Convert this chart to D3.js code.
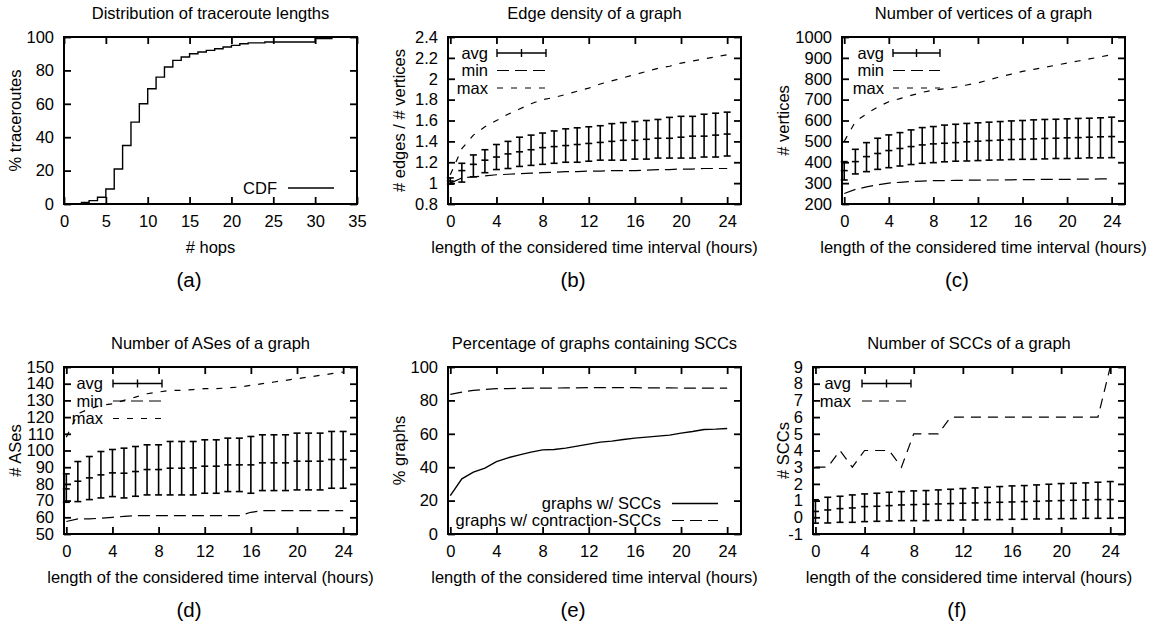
<!DOCTYPE html>
<html>
<head>
<meta charset="utf-8">
<script src="https://cdn.jsdelivr.net/npm/d3@7"></script>
<style>
body { margin: 0; background: #fff; }
text { font-family: "Liberation Sans", Arial, sans-serif; fill: #000; }
</style>
</head>
<body>
<svg id="chart"></svg>
<script>
// ---- data ----
var hops = [2,3,4,5,6,7,8,9,10,11,12,13,14,15,16,17,18,19,20,21,22,23,24,25,26,27,28,29,30,31,32];
var hopsCdf = [1,2,4,9,21,35,49,60,69,76,82,86,88,90,91,92,93,94,95,96,96.5,96.5,97,97,97,97,97,97,99,99,100];

var hours = [0,1,2,3,4,5,6,7,8,9,10,11,12,13,14,15,16,17,18,19,20,21,22,23,24];

var densAvg = [1.02,1.12,1.18,1.22,1.25,1.28,1.30,1.32,1.34,1.35,1.36,1.37,1.38,1.39,1.40,1.41,1.41,1.42,1.43,1.43,1.44,1.45,1.45,1.46,1.47];
var densLo  = [0.99,1.01,1.06,1.10,1.13,1.14,1.16,1.17,1.18,1.19,1.20,1.20,1.21,1.22,1.22,1.22,1.23,1.23,1.24,1.24,1.24,1.24,1.25,1.25,1.26];
var densHi  = [1.05,1.19,1.27,1.32,1.37,1.40,1.44,1.46,1.48,1.50,1.52,1.53,1.54,1.55,1.57,1.58,1.59,1.60,1.61,1.63,1.64,1.64,1.66,1.67,1.68];
var densMin = [1.00,1.05,1.06,1.07,1.08,1.085,1.09,1.095,1.10,1.105,1.11,1.11,1.115,1.115,1.12,1.12,1.12,1.125,1.13,1.13,1.135,1.135,1.14,1.14,1.14];
var densMax = [1.08,1.33,1.46,1.54,1.60,1.66,1.71,1.76,1.80,1.82,1.85,1.88,1.91,1.95,1.98,2.01,2.04,2.07,2.10,2.12,2.15,2.17,2.19,2.21,2.23];

var vertAvg = [360,403,427,442,456,466,475,483,488,491,494,498,501,504,506,509,510,512,514,515,517,518,520,522,523];
var vertLo  = [315,344,355,366,374,382,389,395,398,402,405,406,408,410,411,413,414,414,416,418,418,419,421,421,422];
var vertHi  = [403,462,494,515,531,542,555,566,571,578,582,586,589,592,595,598,600,603,605,606,608,610,611,613,616];
var vertMin = [250,270,282,292,300,304,308,310,312,312,313,314,314,315,315,316,317,317,318,318,318,319,319,320,320];
var vertMax = [500,595,632,665,690,705,720,735,745,752,760,770,780,795,810,822,835,845,855,865,875,885,895,905,915];

var asAvg = [77,81.6,83.6,85.4,86.6,86.4,87.4,88.6,88.6,89.4,89.4,89.6,90.6,90.6,91.4,91.4,91.4,92.6,92.6,92.6,93.6,93.6,93.6,94.6,94.6];
var asLo  = [69,69.4,70.6,71.6,72.4,71.6,72.6,73.4,73.4,73.4,73.4,73.4,74.4,74.4,75.4,75.4,74.4,76,76,76,76.4,76.4,76.4,77.4,77.4];
var asHi  = [86,93.4,96.4,99.4,100.6,101.4,102.4,103.4,103.4,105.4,105.4,105.4,106.4,106.4,107.4,107.4,108.4,109.4,109.4,109.4,110.4,110.4,110.4,111.4,111.4];
var asMin = [57.5,59,59,59.5,60,60.5,61,61,61,61,61,61,61,61,61,61,63,64,64,64,64,64,64,64,64];
var asMax = [108,122,125,127,128,130,132,134,135,136,136,136.5,137,137,137.5,138,139,140,141,142,143,144,145,146,147];

var sccShare   = [23,33,37,39.4,43.4,45.6,47.4,49,50.4,50.6,51.4,52.6,53.8,55,55.6,56.6,57.4,58,58.6,59.2,60.4,61.4,62.6,62.8,63.2];
var contrShare = [83.6,85,86,86.6,87,87.1,87.2,87.3,87.4,87.4,87.5,87.5,87.6,87.6,87.6,87.6,87.6,87.5,87.5,87.5,87.4,87.4,87.4,87.4,87.4];

var sccAvg = [0.35,0.44,0.52,0.56,0.64,0.66,0.70,0.74,0.76,0.78,0.80,0.82,0.84,0.86,0.88,0.90,0.92,0.94,0.96,0.98,1.00,1.02,1.04,1.06,1.06];
var sccLo  = [-0.35,-0.34,-0.30,-0.30,-0.26,-0.24,-0.22,-0.20,-0.20,-0.20,-0.18,-0.18,-0.16,-0.16,-0.14,-0.14,-0.12,-0.12,-0.10,-0.10,-0.08,-0.08,-0.06,-0.06,-0.06];
var sccHi  = [1.05,1.20,1.26,1.34,1.40,1.44,1.50,1.54,1.58,1.60,1.64,1.68,1.72,1.76,1.80,1.84,1.88,1.90,1.94,1.98,2.02,2.04,2.06,2.10,2.14];
var sccMax = [3,3,4,3,4,4,4,3,5,5,5,6,6,6,6,6,6,6,6,6,6,6,6,6,9];

var hopTicks  = [0,5,10,15,20,25,30,35];
var hourTicks = [0,4,8,12,16,20,24];
var pctTicks  = [0,20,40,60,80,100];
var densTicks = [0.8,1,1.2,1.4,1.6,1.8,2,2.2,2.4];
var vertTicks = [200,300,400,500,600,700,800,900,1000];
var asTicks   = [50,60,70,80,90,100,110,120,130,140,150];
var sccTicks  = [-1,0,1,2,3,4,5,6,7,8,9];

// ---- drawing ----
var W = 1151, H = 624;
var FS = 16.5;
var svg = d3.select("#chart").attr("width", W).attr("height", H);

var fmt = function(d) { return String(+d.toFixed(1)); };

function panel(p) {
    var x = d3.scaleLinear().domain(p.xDomain).range([p.left, p.right]);
    var y = d3.scaleLinear().domain(p.yDomain).range([p.bottom, p.top]);
    var g = svg.append("g");
    var axes = [
        g.append("g").attr("transform", "translate(0," + p.bottom + ")")
            .call(d3.axisBottom(x).tickValues(p.xTicks).tickSizeInner(-7).tickSizeOuter(0).tickPadding(11).tickFormat(fmt)),
        g.append("g").attr("transform", "translate(0," + p.top + ")")
            .call(d3.axisTop(x).tickValues(p.xTicks).tickSizeInner(-7).tickSizeOuter(0).tickFormat("")),
        g.append("g").attr("transform", "translate(" + p.left + ",0)")
            .call(d3.axisLeft(y).tickValues(p.yTicks).tickSizeInner(-7).tickSizeOuter(0).tickPadding(10).tickFormat(fmt)),
        g.append("g").attr("transform", "translate(" + p.right + ",0)")
            .call(d3.axisRight(y).tickValues(p.yTicks).tickSizeInner(-7).tickSizeOuter(0).tickFormat(""))
    ];
    axes.forEach(function(a) {
        a.attr("font-family", null).attr("font-size", FS);
        a.select(".domain").remove();
        a.selectAll(".tick line").attr("stroke", "#000").attr("stroke-width", 1.8);
    });
    g.append("rect")
        .attr("x", p.left).attr("y", p.top)
        .attr("width", p.right - p.left).attr("height", p.bottom - p.top)
        .attr("fill", "none").attr("stroke", "#000").attr("stroke-width", 2);

    var cx = (p.left + p.right) / 2;
    g.append("text").attr("x", cx).attr("y", p.top - 18)
        .attr("text-anchor", "middle").attr("font-size", FS).text(p.title);
    g.append("text").attr("x", cx).attr("y", p.bottom + 48.5)
        .attr("text-anchor", "middle").attr("font-size", FS).text(p.xLabel);
    g.append("text").attr("x", p.subX).attr("y", p.bottom + 82.5)
        .attr("text-anchor", "middle").attr("font-size", 20.5).text(p.sub);
    g.append("text")
        .attr("transform", "translate(" + (p.yLabelX + 6) + "," + ((p.top + p.bottom) / 2) + ") rotate(-90)")
        .attr("text-anchor", "middle").attr("font-size", FS).text(p.yLabel);
    return { g: g, x: x, y: y };
}

function drawLine(c, xs, ys, dash, curve) {
    var line = d3.line()
        .x(function(d, i) { return c.x(xs[i]); })
        .y(function(d) { return c.y(d); });
    if (curve) line.curve(curve);
    c.g.append("path").datum(ys)
        .attr("d", line)
        .attr("fill", "none")
        .attr("stroke", "#000")
        .attr("stroke-width", dash ? 1.2 : 1.4)
        .attr("stroke-dasharray", dash || null);
}

function drawErrorbars(c, xs, avg, lo, hi) {
    var cap = 3.5;
    var bars = c.g.append("g").attr("stroke", "#000").attr("stroke-width", 1.6);
    xs.forEach(function(h, i) {
        var px = c.x(h);
        bars.append("line").attr("x1", px).attr("x2", px).attr("y1", c.y(lo[i])).attr("y2", c.y(hi[i]));
        bars.append("line").attr("x1", px - cap).attr("x2", px + cap).attr("y1", c.y(lo[i])).attr("y2", c.y(lo[i]));
        bars.append("line").attr("x1", px - cap).attr("x2", px + cap).attr("y1", c.y(hi[i])).attr("y2", c.y(hi[i]));
        bars.append("line").attr("x1", px - cap).attr("x2", px + cap).attr("y1", c.y(avg[i])).attr("y2", c.y(avg[i]));
    });
}

function legendText(c, xRight, y, label) {
    c.g.append("text").attr("x", xRight).attr("y", y + 5.5)
        .attr("text-anchor", "end").attr("font-size", FS).text(label);
}

function legendLine(c, x1, x2, y, dash) {
    c.g.append("line").attr("x1", x1).attr("x2", x2).attr("y1", y).attr("y2", y)
        .attr("stroke", "#000").attr("stroke-width", dash ? 1.2 : 1.4)
        .attr("stroke-dasharray", dash || null);
}

function legendErr(c, x1, x2, y) {
    var s = c.g.append("g").attr("stroke", "#000").attr("stroke-width", 1.4);
    var m = (x1 + x2) / 2;
    s.append("line").attr("x1", x1).attr("x2", x2).attr("y1", y).attr("y2", y);
    s.append("line").attr("x1", x1).attr("x2", x1).attr("y1", y - 4).attr("y2", y + 4);
    s.append("line").attr("x1", x2).attr("x2", x2).attr("y1", y - 4).attr("y2", y + 4);
    s.append("line").attr("x1", m).attr("x2", m).attr("y1", y - 4).attr("y2", y + 4);
}

var MIN_DASH = "12,6", MAX_DASH = "6,8";
var hourLabel = "length of the considered time interval (hours)";
var hourDomain = [-0.2, 25.2];

// (a)
var a = panel({ left: 64, right: 357, top: 37, bottom: 204, xDomain: [0, 35], yDomain: [0, 100],
    xTicks: hopTicks, yTicks: pctTicks, title: "Distribution of traceroute lengths",
    xLabel: "# hops", yLabel: "% traceroutes", sub: "(a)", subX: 189, yLabelX: 15 });
drawLine(a, hops, hopsCdf, null, d3.curveStepAfter);
legendText(a, 277, 188, "CDF");
legendLine(a, 288, 334, 188, null);

// (b)
var b = panel({ left: 448, right: 741, top: 37, bottom: 204, xDomain: hourDomain, yDomain: [0.8, 2.4],
    xTicks: hourTicks, yTicks: densTicks, title: "Edge density of a graph",
    xLabel: hourLabel, yLabel: "# edges / # vertices", sub: "(b)", subX: 573, yLabelX: 399 });
drawLine(b, hours, densMin, MIN_DASH);
drawLine(b, hours, densMax, MAX_DASH);
drawErrorbars(b, hours, densAvg, densLo, densHi);
legendText(b, 488, 53, "avg"); legendErr(b, 497, 546, 53);
legendText(b, 488, 70.5, "min"); legendLine(b, 497, 546, 70.5, MIN_DASH);
legendText(b, 488, 88, "max"); legendLine(b, 497, 546, 88, MAX_DASH);

// (c)
var c = panel({ left: 842, right: 1125, top: 37, bottom: 204, xDomain: hourDomain, yDomain: [200, 1000],
    xTicks: hourTicks, yTicks: vertTicks, title: "Number of vertices of a graph",
    xLabel: hourLabel, yLabel: "# vertices", sub: "(c)", subX: 957, yLabelX: 783 });
drawLine(c, hours, vertMin, MIN_DASH);
drawLine(c, hours, vertMax, MAX_DASH);
drawErrorbars(c, hours, vertAvg, vertLo, vertHi);
legendText(c, 884, 53, "avg"); legendErr(c, 893, 940, 53);
legendText(c, 884, 70.5, "min"); legendLine(c, 893, 940, 70.5, MIN_DASH);
legendText(c, 884, 88, "max"); legendLine(c, 893, 940, 88, MAX_DASH);

// (d)
var d = panel({ left: 64, right: 357, top: 367, bottom: 534, xDomain: hourDomain, yDomain: [50, 150],
    xTicks: hourTicks, yTicks: asTicks, title: "Number of ASes of a graph",
    xLabel: hourLabel, yLabel: "# ASes", sub: "(d)", subX: 189, yLabelX: 15 });
drawLine(d, hours, asMin, MIN_DASH);
drawLine(d, hours, asMax, MAX_DASH);
drawErrorbars(d, hours, asAvg, asLo, asHi);
legendText(d, 103, 383.5, "avg"); legendErr(d, 113, 162, 383.5);
legendText(d, 103, 401, "min"); legendLine(d, 113, 162, 401, MIN_DASH);
legendText(d, 103, 418.5, "max"); legendLine(d, 113, 162, 418.5, MAX_DASH);

// (e)
var e = panel({ left: 448, right: 741, top: 367, bottom: 534, xDomain: hourDomain, yDomain: [0, 100],
    xTicks: hourTicks, yTicks: pctTicks, title: "Percentage of graphs containing SCCs",
    xLabel: hourLabel, yLabel: "% graphs", sub: "(e)", subX: 573, yLabelX: 399 });
drawLine(e, hours, sccShare, null);
drawLine(e, hours, contrShare, MIN_DASH);
legendText(e, 661, 503.5, "graphs w/ SCCs"); legendLine(e, 672, 718, 503.5, null);
legendText(e, 661, 520.5, "graphs w/ contraction-SCCs"); legendLine(e, 672, 718, 520.5, MIN_DASH);

// (f)
var f = panel({ left: 813, right: 1125, top: 367, bottom: 534, xDomain: hourDomain, yDomain: [-1, 9],
    xTicks: hourTicks, yTicks: sccTicks, title: "Number of SCCs of a graph",
    xLabel: hourLabel, yLabel: "# SCCs", sub: "(f)", subX: 957, yLabelX: 783 });
drawLine(f, hours, sccMax, "10,7");
drawErrorbars(f, hours, sccAvg, sccLo, sccHi);
legendText(f, 851, 383.5, "avg"); legendErr(f, 862, 911, 383.5);
legendText(f, 851, 401, "max"); legendLine(f, 862, 911, 401, "10,7");
</script>
</body>
</html>
